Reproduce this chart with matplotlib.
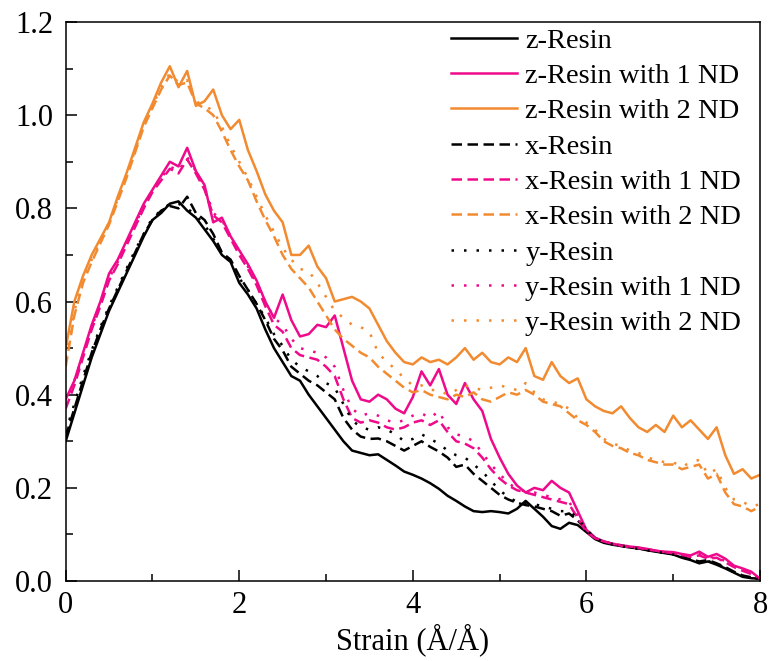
import numpy as np
import matplotlib
matplotlib.use('Agg')
import matplotlib.pyplot as plt
from matplotlib.ticker import MultipleLocator

plt.rcParams['font.family'] = ['Liberation Serif', 'DejaVu Serif']

# strain grid (0.0 .. 8.0, step 0.1)
strain = np.round(np.arange(81) * 0.1, 1)

z_resin = [0.30, 0.36, 0.42, 0.48, 0.53, 0.58, 0.62, 0.66, 0.70, 0.74,
           0.775, 0.79, 0.81, 0.815, 0.795, 0.78, 0.755, 0.73, 0.70, 0.685,
           0.64, 0.615, 0.585, 0.54, 0.50, 0.47, 0.44, 0.43, 0.40, 0.375,
           0.35, 0.325, 0.30, 0.28, 0.275, 0.27, 0.272, 0.26, 0.248, 0.235,
           0.228, 0.22, 0.21, 0.198, 0.183, 0.172, 0.16, 0.15, 0.148, 0.15,
           0.148, 0.145, 0.155, 0.172, 0.155, 0.138, 0.118, 0.112, 0.125, 0.12,
           0.105, 0.09, 0.082, 0.078, 0.075, 0.072, 0.07, 0.066, 0.063, 0.06,
           0.057, 0.05, 0.045, 0.038, 0.042, 0.035, 0.027, 0.018, 0.009, 0.006,
           0.005]
z_1nd = [0.39, 0.43, 0.49, 0.55, 0.60, 0.66, 0.69, 0.73, 0.77, 0.81,
         0.84, 0.87, 0.90, 0.89, 0.93, 0.88, 0.85, 0.77, 0.78, 0.74,
         0.71, 0.68, 0.645, 0.60, 0.565, 0.615, 0.56, 0.525, 0.53, 0.55,
         0.545, 0.57, 0.50, 0.43, 0.39, 0.385, 0.40, 0.39, 0.37, 0.36,
         0.395, 0.45, 0.42, 0.455, 0.40, 0.38, 0.425, 0.39, 0.365, 0.305,
         0.265, 0.23, 0.205, 0.19, 0.20, 0.195, 0.215, 0.20, 0.19, 0.15,
         0.11, 0.093, 0.085, 0.08, 0.077, 0.074, 0.072, 0.069, 0.065, 0.063,
         0.062, 0.058, 0.055, 0.063, 0.052, 0.058, 0.048, 0.033, 0.027, 0.02,
         0.005]
z_2nd = [0.50, 0.60, 0.655, 0.70, 0.735, 0.77, 0.825, 0.875, 0.93, 0.985,
         1.025, 1.07, 1.105, 1.06, 1.095, 1.02, 1.03, 1.055, 1.00, 0.97,
         0.99, 0.925, 0.88, 0.83, 0.795, 0.77, 0.70, 0.70, 0.72, 0.675,
         0.65, 0.60, 0.605, 0.61, 0.60, 0.585, 0.55, 0.515, 0.49, 0.47,
         0.465, 0.48, 0.47, 0.475, 0.465, 0.48, 0.50, 0.475, 0.49, 0.47,
         0.465, 0.48, 0.47, 0.50, 0.44, 0.432, 0.47, 0.44, 0.425, 0.435,
         0.39, 0.375, 0.365, 0.36, 0.375, 0.35, 0.33, 0.32, 0.335, 0.32,
         0.355, 0.33, 0.345, 0.325, 0.305, 0.33, 0.27, 0.23, 0.24, 0.22,
         0.228]
x_resin = [0.31, 0.37, 0.43, 0.49, 0.54, 0.585, 0.625, 0.665, 0.705, 0.745,
           0.775, 0.795, 0.805, 0.80, 0.825, 0.79, 0.775, 0.745, 0.705, 0.69,
           0.655, 0.625, 0.595, 0.56, 0.52, 0.495, 0.46, 0.445, 0.43, 0.42,
           0.405, 0.39, 0.35, 0.325, 0.31, 0.305, 0.306, 0.30, 0.29, 0.28,
           0.29, 0.30, 0.288, 0.278, 0.265, 0.245, 0.25, 0.23, 0.215, 0.20,
           0.185, 0.175, 0.168, 0.163, 0.16, 0.155, 0.15, 0.14, 0.145, 0.13,
           0.11, 0.092, 0.084, 0.08, 0.076, 0.073, 0.07, 0.067, 0.064, 0.061,
           0.058, 0.052, 0.047, 0.042, 0.045, 0.038, 0.03, 0.02, 0.012, 0.008,
           0.005]
x_1nd = [0.37, 0.42, 0.48, 0.54, 0.59, 0.645, 0.68, 0.72, 0.76, 0.80,
         0.835, 0.86, 0.885, 0.875, 0.905, 0.875, 0.84, 0.785, 0.77, 0.735,
         0.70, 0.67, 0.635, 0.59, 0.55, 0.535, 0.50, 0.485, 0.48, 0.475,
         0.46, 0.44, 0.39, 0.35, 0.34, 0.345, 0.34, 0.33, 0.325, 0.33,
         0.34, 0.345, 0.335, 0.345, 0.32, 0.30, 0.295, 0.285, 0.265, 0.24,
         0.22, 0.205, 0.195, 0.19, 0.185, 0.18, 0.175, 0.17, 0.165, 0.135,
         0.105, 0.092, 0.085, 0.08, 0.076, 0.073, 0.071, 0.068, 0.065, 0.062,
         0.06, 0.056, 0.052, 0.055, 0.048, 0.05, 0.04, 0.03, 0.022, 0.015,
         0.005]
x_2nd = [0.46, 0.57, 0.64, 0.685, 0.725, 0.765, 0.815, 0.865, 0.92, 0.975,
         1.015, 1.055, 1.085, 1.065, 1.07, 1.025, 1.015, 1.00, 0.965, 0.925,
         0.89, 0.86, 0.815, 0.775, 0.74, 0.70, 0.67, 0.65, 0.63, 0.60,
         0.57, 0.54, 0.52, 0.505, 0.49, 0.48, 0.46, 0.445, 0.43, 0.415,
         0.405, 0.41, 0.40, 0.395, 0.39, 0.40, 0.395, 0.405, 0.39, 0.385,
         0.395, 0.405, 0.40, 0.41, 0.40, 0.385, 0.38, 0.375, 0.36, 0.345,
         0.335, 0.32, 0.30, 0.29, 0.285, 0.275, 0.27, 0.26, 0.255, 0.25,
         0.25, 0.24, 0.245, 0.25, 0.22, 0.23, 0.19, 0.165, 0.16, 0.15,
         0.16]
y_resin = [0.32, 0.38, 0.44, 0.495, 0.545, 0.59, 0.63, 0.67, 0.71, 0.745,
           0.78, 0.795, 0.81, 0.81, 0.80, 0.785, 0.765, 0.735, 0.705, 0.685,
           0.65, 0.625, 0.595, 0.565, 0.53, 0.505, 0.475, 0.46, 0.45, 0.44,
           0.425, 0.415, 0.38, 0.345, 0.33, 0.325, 0.33, 0.325, 0.315, 0.30,
           0.305, 0.315, 0.305, 0.295, 0.28, 0.27, 0.265, 0.25, 0.235, 0.215,
           0.195, 0.18, 0.17, 0.168, 0.165, 0.16, 0.155, 0.15, 0.15, 0.135,
           0.11, 0.092, 0.084, 0.079, 0.075, 0.072, 0.069, 0.066, 0.063, 0.06,
           0.057, 0.051, 0.046, 0.04, 0.043, 0.036, 0.028, 0.019, 0.01, 0.007,
           0.005]
y_1nd = [0.38, 0.43, 0.485, 0.545, 0.595, 0.65, 0.685, 0.725, 0.765, 0.805,
         0.84, 0.865, 0.89, 0.88, 0.91, 0.88, 0.845, 0.79, 0.775, 0.74,
         0.705, 0.675, 0.64, 0.60, 0.565, 0.55, 0.52, 0.50, 0.495, 0.49,
         0.48, 0.46, 0.41, 0.37, 0.355, 0.36, 0.355, 0.345, 0.34, 0.345,
         0.355, 0.36, 0.35, 0.365, 0.33, 0.315, 0.31, 0.30, 0.275, 0.25,
         0.23, 0.21, 0.198, 0.192, 0.19, 0.185, 0.18, 0.175, 0.17, 0.14,
         0.107, 0.092, 0.085, 0.08, 0.076, 0.073, 0.071, 0.068, 0.065, 0.062,
         0.06, 0.056, 0.052, 0.058, 0.05, 0.053, 0.042, 0.031, 0.024, 0.017,
         0.005]
y_2nd = [0.48, 0.58, 0.645, 0.69, 0.73, 0.77, 0.82, 0.87, 0.925, 0.98,
         1.02, 1.06, 1.09, 1.07, 1.075, 1.03, 1.02, 1.01, 0.975, 0.935,
         0.90, 0.865, 0.825, 0.785, 0.75, 0.715, 0.69, 0.67, 0.665, 0.64,
         0.61, 0.58, 0.565, 0.55, 0.545, 0.535, 0.49, 0.47, 0.455, 0.435,
         0.42, 0.42, 0.41, 0.41, 0.40, 0.41, 0.42, 0.415, 0.41, 0.415,
         0.42, 0.415, 0.41, 0.425, 0.405, 0.39, 0.385, 0.38, 0.37, 0.35,
         0.34, 0.325, 0.305, 0.295, 0.29, 0.28, 0.275, 0.265, 0.26, 0.255,
         0.255, 0.245, 0.255, 0.26, 0.23, 0.24, 0.20, 0.175, 0.17, 0.16,
         0.165]

black = 'black'
pink = '#EE0A8A'
orange = '#F28A30'
dashed = (0, (4.2, 2.2))
dotted = (0, (1.0, 4.0))

series = [
    (z_resin, black, '-', 'z-Resin'),
    (z_1nd, pink, '-', 'z-Resin with 1 ND'),
    (z_2nd, orange, '-', 'z-Resin with 2 ND'),
    (x_resin, black, dashed, 'x-Resin'),
    (x_1nd, pink, dashed, 'x-Resin with 1 ND'),
    (x_2nd, orange, dashed, 'x-Resin with 2 ND'),
    (y_resin, black, dotted, 'y-Resin'),
    (y_1nd, pink, dotted, 'y-Resin with 1 ND'),
    (y_2nd, orange, dotted, 'y-Resin with 2 ND'),
]

fig = plt.figure(figsize=(7.69, 6.61), dpi=100)
ax = fig.add_axes([0.0854, 0.121, 0.9029, 0.8457])

for vals, col, ls, lab in series:
    ax.plot(strain, vals, color=col, linestyle=ls, linewidth=1.8, label=lab)

ax.set_xlim(0, 8)
ax.set_ylim(0, 1.2)
ax.xaxis.set_major_locator(MultipleLocator(2))
ax.xaxis.set_minor_locator(MultipleLocator(1))
ax.yaxis.set_major_locator(MultipleLocator(0.2))
ax.yaxis.set_minor_locator(MultipleLocator(0.1))
ax.yaxis.set_major_formatter(matplotlib.ticker.FormatStrFormatter('%.1f'))
ax.tick_params(which='both', direction='in', top=False, right=False, width=1.1)
ax.tick_params(which='major', length=8, labelsize=22)
ax.tick_params(which='minor', length=5)
ax.tick_params(axis='x', pad=7)
ax.tick_params(axis='y', pad=9)
for sp in ax.spines.values():
    sp.set_linewidth(1.1)

ax.set_xlabel('Strain (Å/Å)', fontsize=22, labelpad=3)

ax.legend(loc='upper left', bbox_to_anchor=(0.547, 1.0), frameon=False,
          fontsize=20.5, handlelength=2.3, handletextpad=0.3,
          labelspacing=0.33, borderaxespad=0, borderpad=0.2)

fig.savefig('out.png', dpi=100)
